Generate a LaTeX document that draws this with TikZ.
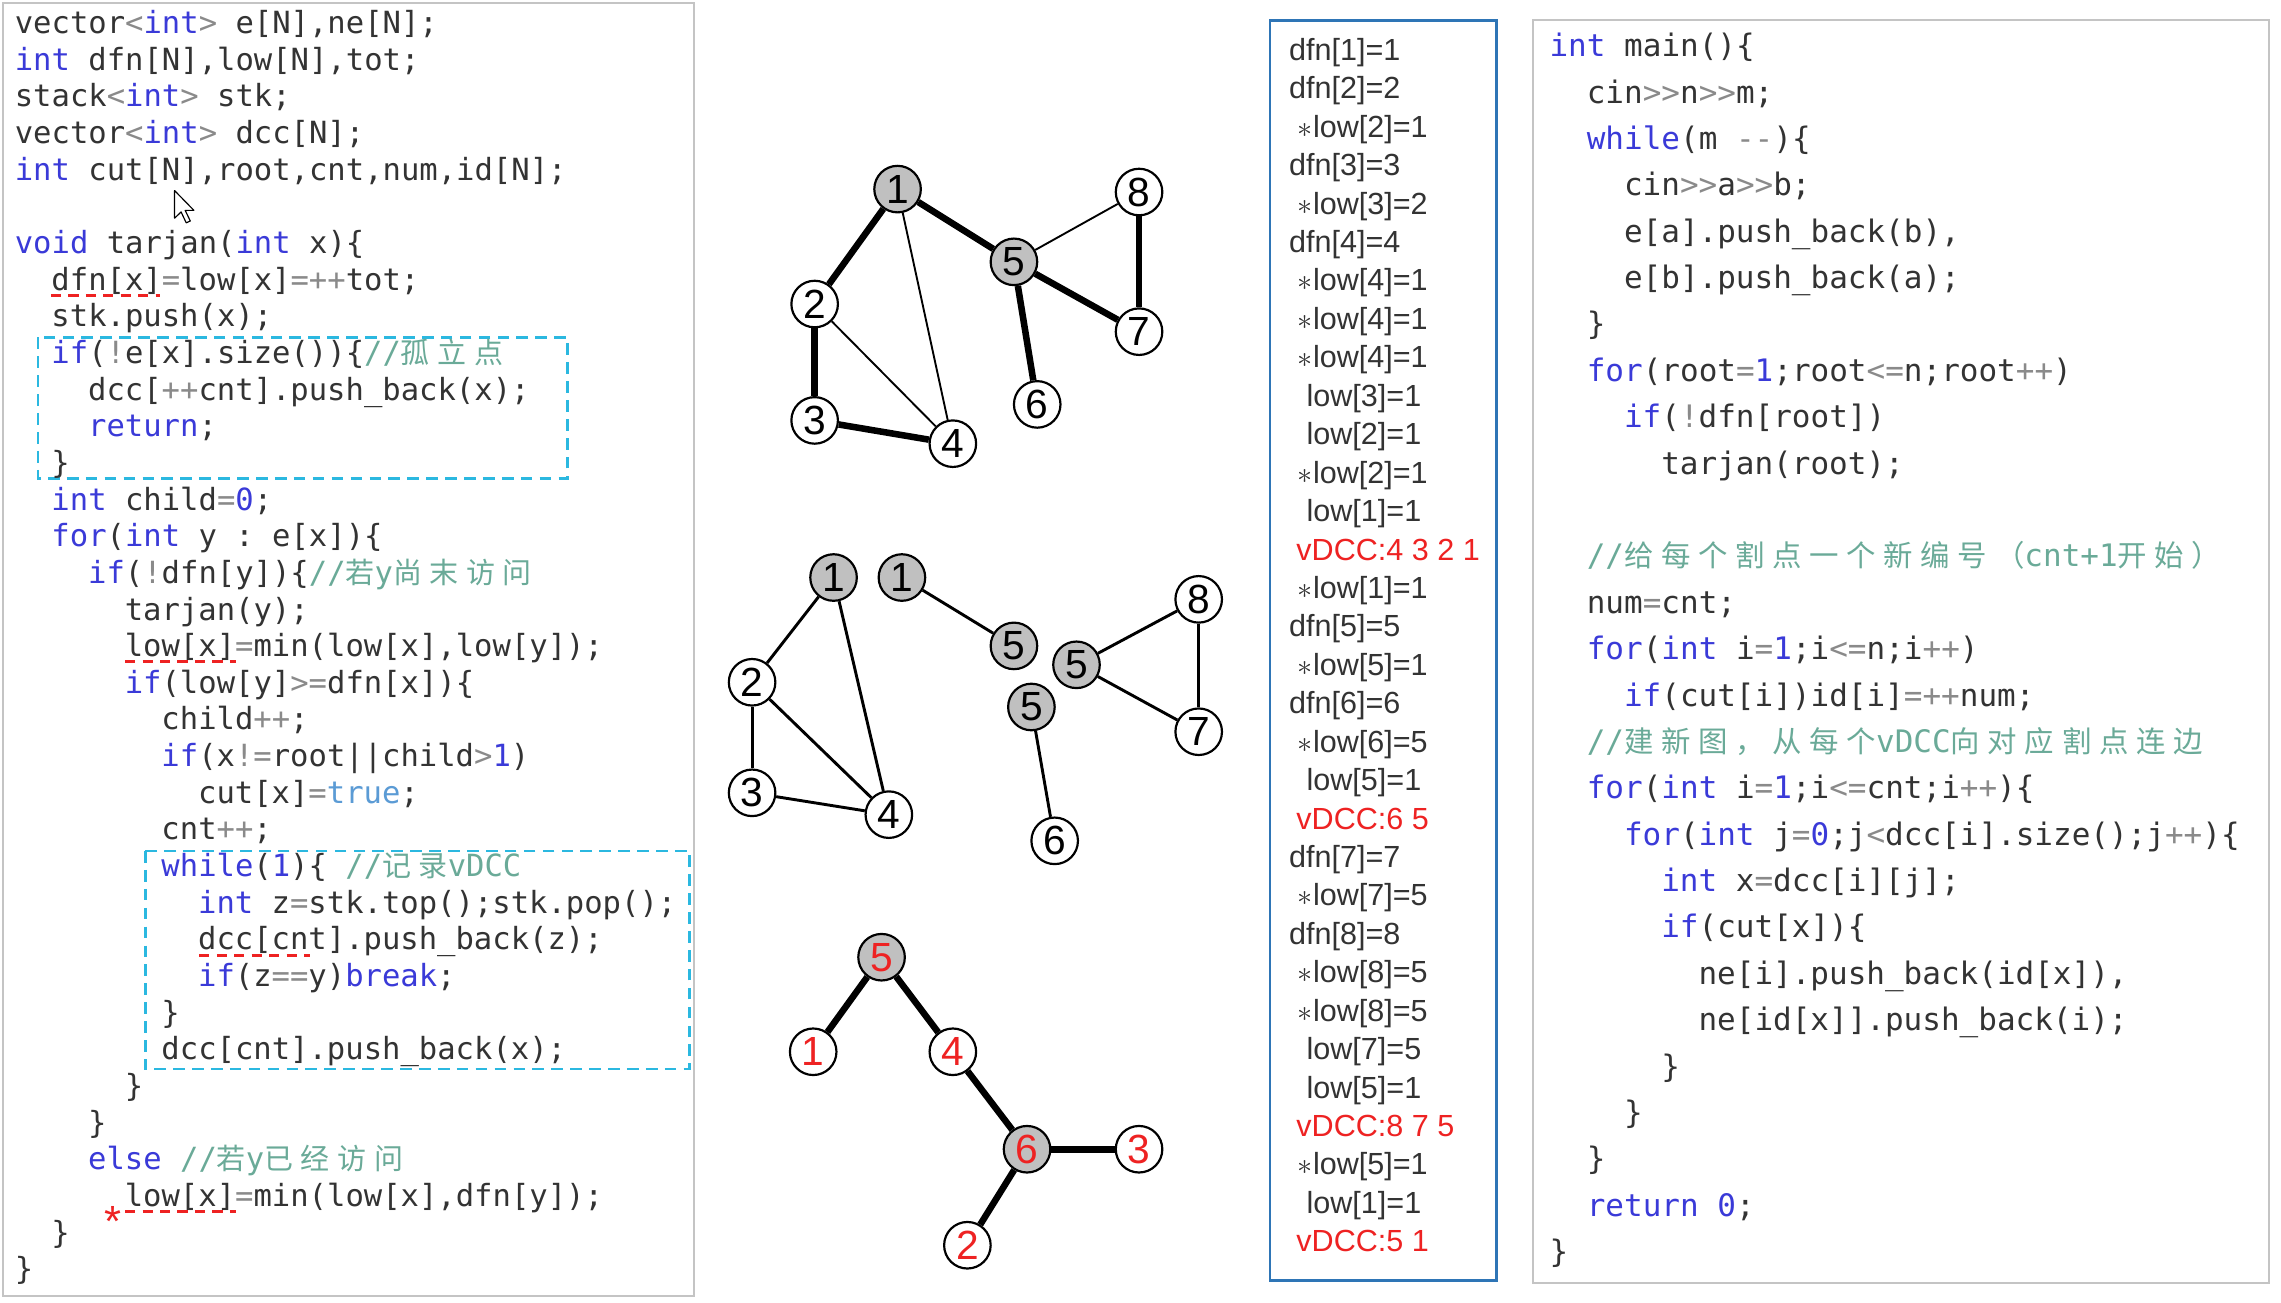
\documentclass[tikz,border=0pt]{standalone}
\usepackage{fontspec}
\setmainfont{Liberation Sans}
\setmonofont{DejaVu Sans Mono}
\newfontfamily\cjkf[Scale=0.95,LetterSpace=26]{Noto Sans CJK SC}
\definecolor{codetext}{HTML}{333333}
\definecolor{kwc}{HTML}{3A3AD8}
\definecolor{opc}{HTML}{8A8A8A}
\definecolor{numc}{HTML}{3A3AD8}
\definecolor{truec}{HTML}{5B9BD5}
\definecolor{cmc}{HTML}{6AAA98}
\definecolor{boxcyan}{HTML}{2BB8E0}
\definecolor{midblue}{HTML}{2E75B6}
\definecolor{panelgray}{HTML}{C4C4C4}
\definecolor{nodegray}{HTML}{C0C0C0}
\definecolor{redc}{HTML}{EE2222}
\newcommand\ckw[1]{\textcolor{kwc}{#1}}
\newcommand\cop[1]{\textcolor{opc}{#1}}
\newcommand\cnum[1]{\textcolor{numc}{#1}}
\newcommand\ctrue[1]{\textcolor{truec}{#1}}
\newcommand\ccm[1]{\textcolor{cmc}{#1}}
\newcommand\lline[3]{\node[codeL] (L#1) at ({10+#2*12.6},{23+(#1-1)*25.2}) {#3};}
\newcommand\rline[3]{\node[codeR] (R#1) at ({1065+#2*12.8},{39+(#1-1)*31.88}) {#3};}
\newcommand\mline[3]{\node[midT] (M#1) at (#2,{41.5+(#1-1)*26.42}) {#3};}
\tikzset{
  codeL/.style={anchor=base west, inner sep=0, text=codetext, font=\ttfamily\fontsize{21}{25}\selectfont},
  codeR/.style={anchor=base west, inner sep=0, text=codetext, font=\ttfamily\fontsize{21.3}{26}\selectfont},
  midT/.style={anchor=base west, inner sep=0, text=codetext, font=\fontsize{21}{26}\selectfont},
  redmid/.style={midT, text=redc},
  panel/.style={draw=panelgray, line width=1.5},
  cyanbox/.style={draw=boxcyan, line width=1.6, dash pattern=on 8pt off 5pt},
  redul/.style={draw=redc, line width=2, dash pattern=on 7pt off 5pt},
  gn/.style={circle, draw, line width=1.5, fill=white, minimum size=32, inner sep=0, font=\fontsize{28}{28}\selectfont},
  gg/.style={gn, fill=nodegray},
  thickE/.style={line width=4.5},
  thinE/.style={line width=1.3},
  medE/.style={line width=2},
}
\begin{document}
\begin{tikzpicture}[x=1pt,y=-1pt]
\useasboundingbox (0,0) rectangle (1568,895.7);
\fill[white] (0,0) rectangle (1568,895.7);
% panels
\draw[panel] (2,2) rectangle (477,891);
\draw[panel] (1054,14) rectangle (1560,882);
\draw[draw=midblue, line width=2] (873,14) rectangle (1029,880);
% cyan dashed boxes
\draw[cyanbox] (26,232) rectangle (390,329);
\draw[cyanbox] (100,585) rectangle (474,735);
% left code
\lline{1}{0}{vector\cop{<}\ckw{int}\cop{>} e[N],ne[N];}
\lline{2}{0}{\ckw{int} dfn[N],low[N],tot;}
\lline{3}{0}{stack\cop{<}\ckw{int}\cop{>} stk;}
\lline{4}{0}{vector\cop{<}\ckw{int}\cop{>} dcc[N];}
\lline{5}{0}{\ckw{int} cut[N],root,cnt,num,id[N];}
\lline{7}{0}{\ckw{void} tarjan(\ckw{int} x)\{}
\lline{8}{2}{dfn[x]\cop{=}low[x]\cop{=++}tot;}
\lline{9}{2}{stk.push(x);}
\lline{10}{2}{\ckw{if}(\cop{!}e[x].size())\{\ccm{//{\cjkf 孤立点}}}
\lline{11}{4}{dcc[\cop{++}cnt].push\_back(x);}
\lline{12}{4}{\ckw{return};}
\lline{13}{2}{\}}
\lline{14}{2}{\ckw{int} child\cop{=}\cnum{0};}
\lline{15}{2}{\ckw{for}(\ckw{int} y : e[x])\{}
\lline{16}{4}{\ckw{if}(\cop{!}dfn[y])\{\ccm{//{\cjkf 若}y{\cjkf 尚末访问}}}
\lline{17}{6}{tarjan(y);}
\lline{18}{6}{low[x]\cop{=}min(low[x],low[y]);}
\lline{19}{6}{\ckw{if}(low[y]\cop{>=}dfn[x])\{}
\lline{20}{8}{child\cop{++};}
\lline{21}{8}{\ckw{if}(x\cop{!=}root||child\cop{>}\cnum{1})}
\lline{22}{10}{cut[x]\cop{=}\ctrue{true};}
\lline{23}{8}{cnt\cop{++};}
\lline{24}{8}{\ckw{while}(\cnum{1})\{ \ccm{//{\cjkf 记录}vDCC}}
\lline{25}{10}{\ckw{int} z\cop{=}stk.top();stk.pop();}
\lline{26}{10}{dcc[cnt].push\_back(z);}
\lline{27}{10}{\ckw{if}(z\cop{==}y)\ckw{break};}
\lline{28}{8}{\}}
\lline{29}{8}{dcc[cnt].push\_back(x);}
\lline{30}{6}{\}}
\lline{31}{4}{\}}
\lline{32}{4}{\ckw{else} \ccm{//{\cjkf 若}y{\cjkf 已经访问}}}
\lline{33}{6}{low[x]\cop{=}min(low[x],dfn[y]);}
\lline{34}{2}{\}}
\lline{35}{0}{\}}
% red dashed underlines and star
\draw[redul] (35,203) -- (110,203);
\draw[redul] (86,455) -- (162,455);
\draw[redul] (137,657) -- (213,657);
\draw[redul] (86,833) -- (162,833);
\node[inner sep=0, text=redc, font=\fontsize{30}{30}\selectfont] (star) at (78,840) {*};
% cursor
\draw[fill=white, line width=0.8, line join=round] (120,131) -- ++(0,19) -- ++(4.5,-4.3) -- ++(3.5,7.5) -- ++(2.8,-1.3) -- ++(-3.5,-7.3) -- ++(6,0) -- cycle;
% graph 1
\node[gg] (a1) at (617,130) {1};
\node[gn] (a2) at (560,209) {2};
\node[gn] (a3) at (560,289) {3};
\node[gn] (a4) at (655,305) {4};
\node[gg] (a5) at (697,180) {5};
\node[gn] (a6) at (713,278) {6};
\node[gn] (a7) at (783,228) {7};
\node[gn] (a8) at (783,132) {8};
\draw[thickE] (a1) -- (a2);
\draw[thinE] (a1) -- (a4);
\draw[thickE] (a1) -- (a5);
\draw[thickE] (a2) -- (a3);
\draw[thinE] (a2) -- (a4);
\draw[thickE] (a3) -- (a4);
\draw[thinE] (a5) -- (a8);
\draw[thickE] (a5) -- (a6);
\draw[thickE] (a5) -- (a7);
\draw[thickE] (a8) -- (a7);
% graph 2
\node[gg] (b1) at (573,397) {1};
\node[gn] (b2) at (517,469) {2};
\node[gn] (b3) at (517,545) {3};
\node[gn] (b4) at (611,560) {4};
\node[gg] (c1) at (620,397) {1};
\node[gg] (c5) at (697,444) {5};
\node[gg] (d5) at (740,457) {5};
\node[gn] (d8) at (824,412) {8};
\node[gn] (d7) at (824,503) {7};
\node[gg] (e5) at (709,486) {5};
\node[gn] (e6) at (725,578) {6};
\draw[medE] (b1) -- (b2);
\draw[medE] (b1) -- (b4);
\draw[medE] (b2) -- (b3);
\draw[medE] (b2) -- (b4);
\draw[medE] (b3) -- (b4);
\draw[medE] (c1) -- (c5);
\draw[medE] (d5) -- (d8);
\draw[medE] (d5) -- (d7);
\draw[medE] (d8) -- (d7);
\draw[medE] (e5) -- (e6);
% graph 3
\node[gg, text=redc] (t5) at (606,658) {5};
\node[gn, text=redc] (t1) at (559,723) {1};
\node[gn, text=redc] (t4) at (655,723) {4};
\node[gg, text=redc] (t6) at (706,790) {6};
\node[gn, text=redc] (t3) at (783,790) {3};
\node[gn, text=redc] (t2) at (665,856) {2};
\draw[thickE] (t5) -- (t1);
\draw[thickE] (t5) -- (t4);
\draw[thickE] (t4) -- (t6);
\draw[thickE] (t6) -- (t3);
\draw[thickE] (t6) -- (t2);
% middle column
\mline{1}{886}{dfn[1]=1}
\mline{2}{886}{dfn[2]=2}
\mline{3}{892}{$\ast$low[2]=1}
\mline{4}{886}{dfn[3]=3}
\mline{5}{892}{$\ast$low[3]=2}
\mline{6}{886}{dfn[4]=4}
\mline{7}{892}{$\ast$low[4]=1}
\mline{8}{892}{$\ast$low[4]=1}
\mline{9}{892}{$\ast$low[4]=1}
\mline{10}{898}{low[3]=1}
\mline{11}{898}{low[2]=1}
\mline{12}{892}{$\ast$low[2]=1}
\mline{13}{898}{low[1]=1}
\node[redmid] (M14) at (891,{41.5+13*26.42}) {vDCC:4 3 2 1};
\mline{15}{892}{$\ast$low[1]=1}
\mline{16}{886}{dfn[5]=5}
\mline{17}{892}{$\ast$low[5]=1}
\mline{18}{886}{dfn[6]=6}
\mline{19}{892}{$\ast$low[6]=5}
\mline{20}{898}{low[5]=1}
\node[redmid] (M21) at (891,{41.5+20*26.42}) {vDCC:6 5};
\mline{22}{886}{dfn[7]=7}
\mline{23}{892}{$\ast$low[7]=5}
\mline{24}{886}{dfn[8]=8}
\mline{25}{892}{$\ast$low[8]=5}
\mline{26}{892}{$\ast$low[8]=5}
\mline{27}{898}{low[7]=5}
\mline{28}{898}{low[5]=1}
\node[redmid] (M29) at (891,{41.5+28*26.42}) {vDCC:8 7 5};
\mline{30}{892}{$\ast$low[5]=1}
\mline{31}{898}{low[1]=1}
\node[redmid] (M32) at (891,{41.5+31*26.42}) {vDCC:5 1};
% right code
\rline{1}{0}{\ckw{int} main()\{}
\rline{2}{2}{cin\cop{>>}n\cop{>>}m;}
\rline{3}{2}{\ckw{while}(m \cop{--})\{}
\rline{4}{4}{cin\cop{>>}a\cop{>>}b;}
\rline{5}{4}{e[a].push\_back(b),}
\rline{6}{4}{e[b].push\_back(a);}
\rline{7}{2}{\}}
\rline{8}{2}{\ckw{for}(root\cop{=}\cnum{1};root\cop{<=}n;root\cop{++})}
\rline{9}{4}{\ckw{if}(\cop{!}dfn[root])}
\rline{10}{6}{tarjan(root);}
\rline{12}{2}{\ccm{//{\cjkf 给每个割点一个新编号（}cnt+1{\cjkf 开始）}}}
\rline{13}{2}{num\cop{=}cnt;}
\rline{14}{2}{\ckw{for}(\ckw{int} i\cop{=}\cnum{1};i\cop{<=}n;i\cop{++})}
\rline{15}{4}{\ckw{if}(cut[i])id[i]\cop{=++}num;}
\rline{16}{2}{\ccm{//{\cjkf 建新图，从每个}vDCC{\cjkf 向对应割点连边}}}
\rline{17}{2}{\ckw{for}(\ckw{int} i\cop{=}\cnum{1};i\cop{<=}cnt;i\cop{++})\{}
\rline{18}{4}{\ckw{for}(\ckw{int} j\cop{=}\cnum{0};j\cop{<}dcc[i].size();j\cop{++})\{}
\rline{19}{6}{\ckw{int} x\cop{=}dcc[i][j];}
\rline{20}{6}{\ckw{if}(cut[x])\{}
\rline{21}{8}{ne[i].push\_back(id[x]),}
\rline{22}{8}{ne[id[x]].push\_back(i);}
\rline{23}{6}{\}}
\rline{24}{4}{\}}
\rline{25}{2}{\}}
\rline{26}{2}{\ckw{return} \cnum{0};}
\rline{27}{0}{\}}
\end{tikzpicture}
\end{document}
